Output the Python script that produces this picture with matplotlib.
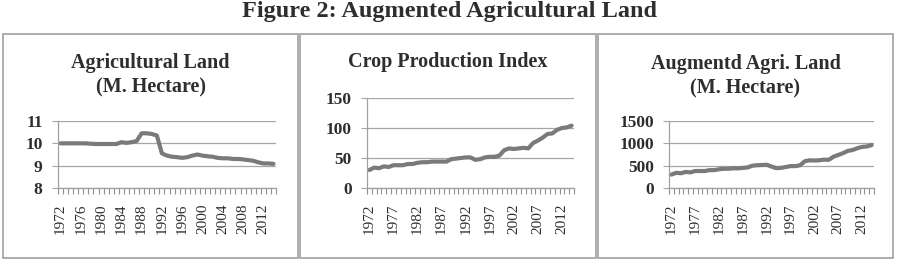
import matplotlib as mpl
import matplotlib.pyplot as plt
from matplotlib.patches import Rectangle
import numpy as np

years = list(range(1972, 2015))

agri_land = [10.0, 10.0, 10.0, 10.0, 10.0, 10.0, 9.98, 9.97, 9.97, 9.97, 9.97, 9.97,
             10.05, 10.02, 10.05, 10.1, 10.45, 10.45, 10.42, 10.35, 9.55, 9.45,
             9.4, 9.38, 9.35, 9.38, 9.45, 9.5, 9.45, 9.42, 9.4, 9.35, 9.33, 9.33,
             9.3, 9.3, 9.28, 9.25, 9.22, 9.15, 9.1, 9.1, 9.08]

crop_index = [30, 34, 33, 36, 35, 38, 38, 38, 40, 40, 42, 43, 43, 44, 44, 44, 44,
              48, 49, 50, 51, 51, 47, 48, 51, 52, 52, 54, 63, 66, 65, 66, 67, 66,
              75, 79, 84, 90, 91, 97, 100, 101, 104]

aug_land = [300, 340, 330, 360, 350, 380, 380, 380, 400, 400, 420, 430, 430, 440,
            440, 450, 460, 500, 510, 515, 520, 480, 445, 450, 470, 490, 490, 510,
            600, 620, 615, 620, 635, 630, 700, 740, 780, 830, 850, 890, 920, 930, 960]

panels = [
    ("Agricultural Land\n(M. Hectare)", agri_land, [8, 9, 10, 11], 4),
    ("Crop Production Index", crop_index, [0, 50, 100, 150], 5),
    ("Augmentd Agri. Land\n(M. Hectare)", aug_land, [0, 500, 1000, 1500], 5),
]

mpl.rcParams["font.family"] = "Liberation Serif"
txt = "#2e2e2e"
W, H = 900, 263

fig = plt.figure(figsize=(9, 2.63), dpi=100)
fig.text(0.5, 1 - 12 / H, "Figure 2: Augmented Agricultural Land", ha="center", va="center",
         fontsize=17.5, fontweight="bold", color=txt)

# panel boxes and plot areas in pixels: (box_l, box_r, ax_l, ax_r, ax_top, title_y)
layout = [
    (3, 298, 58, 276, 121, 75),
    (300, 596, 367, 574, 98, 62),
    (598, 893, 669, 874, 121, 76),
]
box_top, box_bot, ax_bot = 34, 258, 188

for (title, vals, yt, step), (bl, br, al, ar, at, ty) in zip(panels, layout):
    fig.patches.append(Rectangle((bl / W, 1 - box_bot / H), (br - bl) / W, (box_bot - box_top) / H,
                                 transform=fig.transFigure, fill=False, edgecolor="#a0a0a0", lw=1.2))
    fig.text((bl + br) / 2 / W, 1 - ty / H, title, ha="center", va="center", fontsize=14.5,
             fontweight="bold", color=txt, linespacing=1.3)
    ax = fig.add_axes([al / W, 1 - ax_bot / H, (ar - al) / W, (ax_bot - at) / H])
    x = np.arange(len(years))
    ax.plot(x, vals, color="#7a7a7a", lw=3, solid_capstyle="round")
    ax.set_xlim(-0.5, len(years) - 0.5)
    ax.set_ylim(yt[0], yt[-1])
    ax.set_yticks(yt)
    ax.set_yticklabels([str(v) for v in yt], fontsize=12.5, fontweight="bold", color=txt)
    ax.grid(axis="y", color="#a6a6a6", lw=0.9)
    ax.set_axisbelow(True)
    lab_idx = list(range(0, len(years), step))
    ax.set_xticks(lab_idx)
    ax.set_xticklabels([str(years[i]) for i in lab_idx], rotation=90, fontsize=11, color=txt)
    ax.set_xticks(np.arange(-0.5, len(years)), minor=True)
    ax.tick_params(axis="x", which="major", length=0, pad=11)
    ax.tick_params(axis="x", which="minor", length=4, color="#909090", width=0.8)
    ax.tick_params(axis="y", length=4, color="#a6a6a6", width=0.8, pad=7)
    for s in ["top", "right"]:
        ax.spines[s].set_visible(False)
    for s in ["left", "bottom"]:
        ax.spines[s].set_color("#a0a0a0")
        ax.spines[s].set_linewidth(0.9)

fig.savefig("out.png", dpi=100)
